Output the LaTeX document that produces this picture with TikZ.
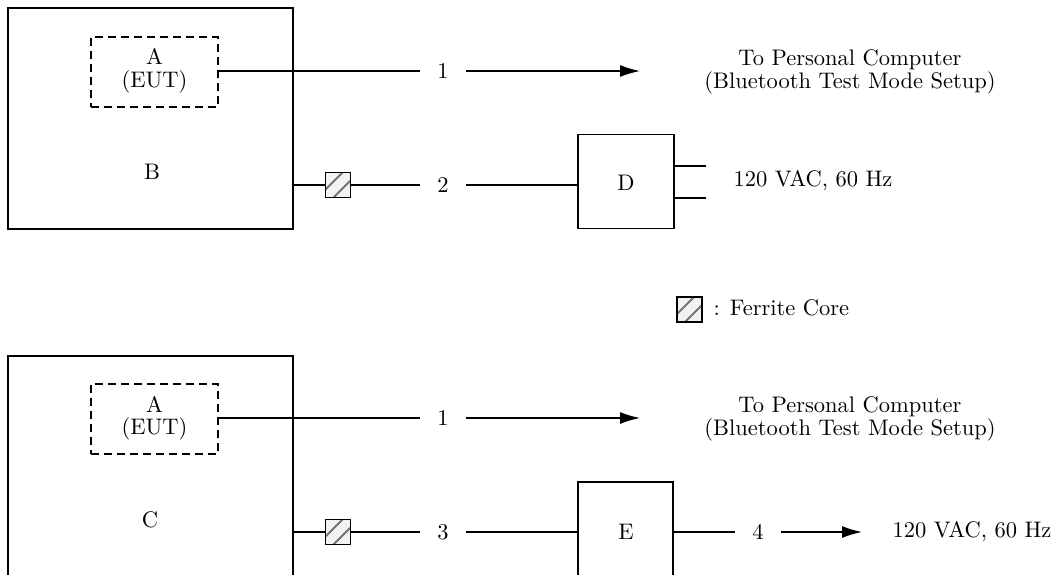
\documentclass[tikz,border=0pt]{standalone}
\usepackage{fontspec}
\setmainfont{lmroman10-regular.otf}
\usetikzlibrary{arrows.meta}
\begin{document}
\begin{tikzpicture}[x=1pt,y=-1pt,
  line width=1.4pt,
  font=\fontsize{22.5}{22.5}\selectfont,
  box/.style={draw, line width=1.4pt, inner sep=0pt},
  dashbox/.style={draw, line width=1.4pt, inner sep=0pt, dash pattern=on 8pt off 5pt},
  txt/.style={inner sep=0pt},
  numlabel/.style={inner sep=0pt, minimum width=45pt},
  ferrite/.style={draw, line width=1.4pt, fill=gray!10, inner sep=0pt, minimum width=25pt, minimum height=25pt,
    path picture={
      \draw[black!55, line width=1.8pt] (path picture bounding box.south west) ++(0pt,8pt) -- ++(17pt,17pt);
      \draw[black!55, line width=1.8pt] (path picture bounding box.south west) ++(8pt,0pt) -- ++(17pt,17pt);
    }},
  arr/.style={-{Latex[length=20pt,width=12pt]}}
]
\useasboundingbox (0,0) rectangle (1061,574);
\clip (0,0) rectangle (1061,574);

% ---------- top setup ----------
\node[box, minimum width=285pt, minimum height=221pt] (B) at (150.5,118.5) {};
\node[dashbox, minimum width=127pt, minimum height=70pt] (A1) at (154.5,72) {};
\node[txt, align=center] (A1t) at (154.5,71) {A\\(EUT)};
\node[txt] (Bt) at (152,172) {B};

\node[numlabel] (n1) at (443,71) {1};
\coordinate (tip1) at (640,71);
\node[txt, align=center] (PC1) at (850,72) {To Personal Computer\\(Bluetooth Test Mode Setup)};

\node[ferrite] (F1) at (338,185) {};
\node[numlabel] (n2) at (443,185) {2};
\node[box, minimum width=96pt, minimum height=94pt] (D) at (626,181.5) {};
\node[txt] (Dt) at (626,183) {D};
\coordinate (p1) at (706,166);
\coordinate (p2) at (706,198);
\node[txt, anchor=west] (V1) at (733,181) {120 VAC, 60 Hz};

\draw (A1.east |- n1) -- (n1.west);
\draw[arr] (n1.east) -- (tip1);
\draw (B.east |- F1) -- (F1.west);
\draw (F1.east) -- (n2.west);
\draw (n2.east) -- (D.west |- n2);
\draw (D.east |- p1) -- (p1);
\draw (D.east |- p2) -- (p2);

% ---------- legend ----------
\node[ferrite] (FL) at (689.5,309.5) {};
\node[txt, anchor=west] (FLt) at (713,308) {: Ferrite Core};

% ---------- bottom setup ----------
\node[box, minimum width=285pt, minimum height=250pt] (C) at (150.5,481) {};
\node[dashbox, minimum width=127pt, minimum height=70pt] (A2) at (154.5,419) {};
\node[txt, align=center] (A2t) at (154.5,418) {A\\(EUT)};
\node[txt] (Ct) at (150,520) {C};

\node[numlabel] (m1) at (443,418) {1};
\coordinate (tip2) at (640,418);
\node[txt, align=center] (PC2) at (850,419) {To Personal Computer\\(Bluetooth Test Mode Setup)};

\node[ferrite] (F2) at (338,532) {};
\node[numlabel] (m3) at (443,532) {3};
\node[box, minimum width=95pt, minimum height=130pt] (E) at (625.5,547) {};
\node[txt] (Et) at (626,532) {E};
\node[numlabel] (m4) at (758,532) {4};
\coordinate (tip3) at (862,532);
\node[txt, anchor=west] (V2) at (892,532) {120 VAC, 60 Hz};

\draw (A2.east |- m1) -- (m1.west);
\draw[arr] (m1.east) -- (tip2);
\draw (C.east |- F2) -- (F2.west);
\draw (F2.east) -- (m3.west);
\draw (m3.east) -- (E.west |- m3);
\draw (E.east |- m4) -- (m4.west);
\draw[arr] (m4.east) -- (tip3);
\end{tikzpicture}
\end{document}
